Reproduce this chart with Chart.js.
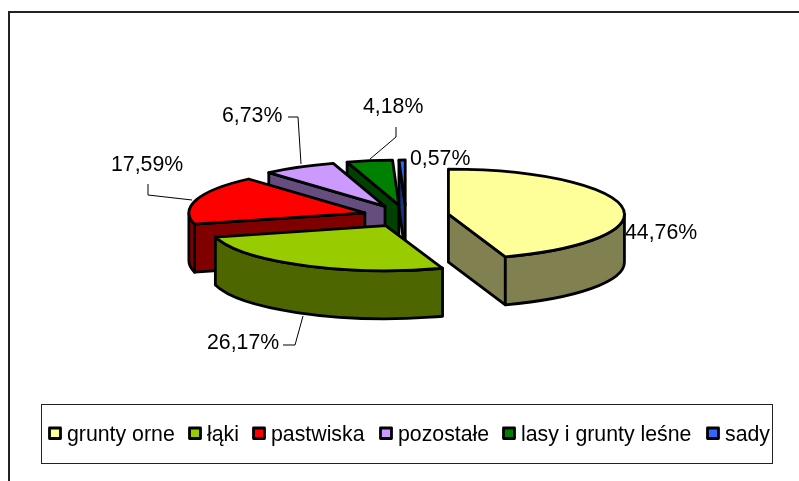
<!DOCTYPE html>
<html>
<head>
<meta charset="utf-8">
<style>
  html, body { margin: 0; padding: 0; background: #fff; }
  #wrap { width: 799px; height: 481px; }
</style>
</head>
<body>
<div id="wrap"><canvas id="land-chart" width="799" height="481"></canvas></div>
<script src="https://cdn.jsdelivr.net/npm/chart.js@4"></script>
<script>
const categories = ['grunty orne', 'łąki', 'pastwiska', 'pozostałe', 'lasy i grunty leśne', 'sady'];
const shares = [44.76, 26.17, 17.59, 6.73, 4.18, 0.57];
const valueLabels = ['44,76%', '26,17%', '17,59%', '6,73%', '4,18%', '0,57%'];
const topColors = ['#FFFF99', '#99CC00', '#FF0000', '#CC99FF', '#008000', '#3366FF'];
const sideColors = ['#808050', '#4D6600', '#800000', '#664D80', '#004000', '#1A3380'];

const font = '21.3px "Liberation Sans", Arial, sans-serif';
const CX = 406, CY = 216;     // centre of the pie before the slices are pulled out
const RX = 176, RY = 45;
const DEPTH = 48;
const EXPLODE = 43;
const SQUASH = RY / RX;
const PEN = 2.8;
const wallOrder = [5, 4, 3, 2, 0, 1];   // back to front

// where the percentage text sits, and the leader line going to each slice
const labelPos = [[625, 233], [207, 343], [111, 165], [222, 116], [363, 107], [410, 159]];
const leaders = [
  null,
  [[283, 345], [295, 345], [303, 316]],
  [[148, 184], [148, 195], [192, 200]],
  [[288, 117], [298, 117], [301, 164]],
  [[396, 127], [396, 137], [370, 159]],
  null
];
// legend marker x and text x
const legendPos = [[48, 67], [188, 207], [252, 271], [379, 398], [502, 521], [706, 725]];

// apex of a slice on screen, after the squash
function sliceGeom(arc) {
  return {
    ax: arc.x,
    ay: CY + (arc.y - CY) * SQUASH,
    startAngle: arc.startAngle,
    endAngle: arc.endAngle,
    r: arc.outerRadius
  };
}

const piePlugin = {
  id: 'pie3d',
  afterDatasetsUpdate(chart) {
    // options.offset also grows the radius, so pull the slices out by hand
    chart.getDatasetMeta(0).data.forEach(arc => {
      const mid = (arc.startAngle + arc.endAngle) / 2;
      arc.x = CX + Math.cos(mid) * EXPLODE;
      arc.y = CY + Math.sin(mid) * EXPLODE;
    });
  },
  beforeDatasetsDraw(chart) {
    const ctx = chart.ctx;
    ctx.save();
    ctx.fillStyle = '#fff';
    ctx.fillRect(0, 0, 799, 481);
    ctx.strokeStyle = '#222';
    ctx.lineWidth = 2;
    ctx.strokeRect(9, 12, 820, 520);
    ctx.restore();

    // side walls first, the library paints the top faces over them
    ctx.save();
    ctx.lineWidth = PEN;
    ctx.lineJoin = 'round';
    ctx.strokeStyle = '#000';
    const arcs = chart.getDatasetMeta(0).data;
    wallOrder.forEach(i => {
      const s = sliceGeom(arcs[i]);
      const rimY = SQUASH * s.r;
      ctx.fillStyle = sideColors[i];
      // flat cut faces
      [[s.startAngle, -1], [s.endAngle, 1]].forEach(([a, dir]) => {
        if (dir * Math.cos(a) <= 0) return;
        const px = s.ax + Math.cos(a) * s.r;
        const py = s.ay + Math.sin(a) * rimY;
        ctx.beginPath();
        ctx.moveTo(s.ax, s.ay);
        ctx.lineTo(px, py);
        ctx.lineTo(px, py + DEPTH);
        ctx.lineTo(s.ax, s.ay + DEPTH);
        ctx.closePath();
        ctx.fill();
        ctx.stroke();
      });
      // curved wall, only the part facing the viewer
      const a0 = Math.max(s.startAngle, 0);
      const a1 = Math.min(s.endAngle, Math.PI);
      if (a1 > a0) {
        ctx.beginPath();
        ctx.ellipse(s.ax, s.ay, s.r, rimY, 0, a0, a1);
        ctx.ellipse(s.ax, s.ay + DEPTH, s.r, rimY, 0, a1, a0, true);
        ctx.closePath();
        ctx.fill();
        ctx.stroke();
      }
    });
    ctx.restore();
  },
  beforeDatasetDraw(chart) {
    const ctx = chart.ctx;
    ctx.save();
    ctx.translate(CX, CY);
    ctx.scale(1, SQUASH);
    ctx.translate(-CX, -CY);
  },
  afterDatasetDraw(chart) {
    const ctx = chart.ctx;
    ctx.restore();
    // outline done outside the squash so the pen keeps its width
    ctx.save();
    ctx.lineWidth = PEN;
    ctx.lineJoin = 'round';
    ctx.strokeStyle = '#000';
    chart.getDatasetMeta(0).data.forEach(arc => {
      const s = sliceGeom(arc);
      ctx.beginPath();
      ctx.moveTo(s.ax, s.ay);
      ctx.ellipse(s.ax, s.ay, s.r, s.r * SQUASH, 0, s.startAngle, s.endAngle);
      ctx.closePath();
      ctx.stroke();
    });
    ctx.restore();
  },
  afterDraw(chart) {
    const ctx = chart.ctx;
    ctx.save();
    // leader lines
    ctx.strokeStyle = '#000';
    ctx.lineWidth = 1;
    leaders.forEach(pts => {
      if (!pts) return;
      ctx.beginPath();
      pts.forEach((p, i) => i ? ctx.lineTo(p[0], p[1]) : ctx.moveTo(p[0], p[1]));
      ctx.stroke();
    });
    // value labels
    ctx.font = font;
    ctx.fillStyle = '#000';
    ctx.textAlign = 'left';
    ctx.textBaseline = 'middle';
    valueLabels.forEach((t, i) => ctx.fillText(t, labelPos[i][0], labelPos[i][1]));
    // legend
    ctx.strokeStyle = '#222';
    ctx.lineWidth = 1;
    ctx.strokeRect(41.5, 404.5, 731, 59);
    ctx.lineJoin = 'round';
    categories.forEach((name, i) => {
      ctx.fillStyle = topColors[i];
      ctx.lineWidth = PEN;
      ctx.strokeStyle = '#000';
      ctx.fillRect(legendPos[i][0] + 1.5, 428, 11, 10.5);
      ctx.strokeRect(legendPos[i][0] + 1.5, 428, 11, 10.5);
      ctx.fillStyle = '#000';
      ctx.fillText(name, legendPos[i][1], 435);
    });
    ctx.restore();
  }
};

new Chart(document.getElementById('land-chart'), {
  type: 'pie',
  data: {
    labels: categories,
    datasets: [{
      data: shares,
      backgroundColor: topColors,
      borderWidth: 0,
      radius: RX,
      clip: false
    }]
  },
  options: {
    responsive: false,
    animation: false,
    layout: { padding: { left: 13, right: 0, top: 0, bottom: 49 } },
    plugins: { legend: { display: false }, tooltip: { enabled: false } }
  },
  plugins: [piePlugin]
});
</script>
</body>
</html>
